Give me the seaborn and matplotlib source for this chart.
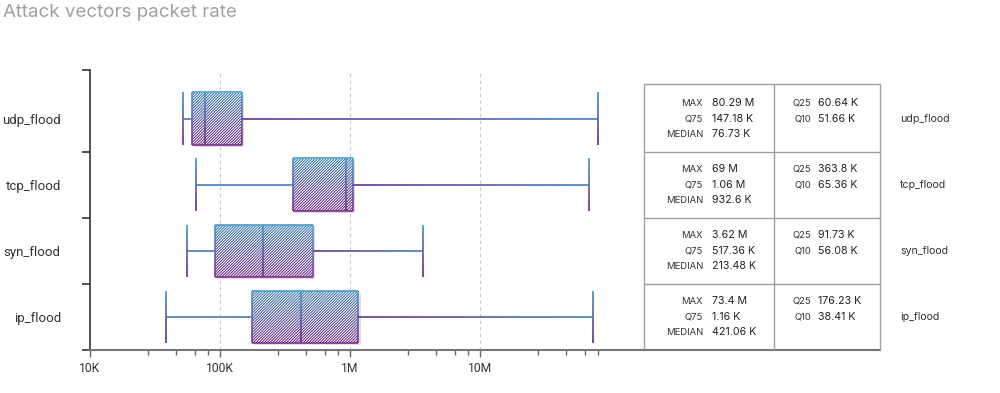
import numpy as np
import pandas as pd
import matplotlib
matplotlib.use("Agg")
import matplotlib.pyplot as plt
import matplotlib.ticker as mticker
import matplotlib.patheffects as pe
from matplotlib.colors import LinearSegmentedColormap
from matplotlib.collections import LineCollection
from matplotlib.patches import Rectangle
import seaborn as sns

# Attack vectors and their packet-rate stats (packets/s)
vectors = ["udp_flood", "tcp_flood", "syn_flood", "ip_flood"]
q10 = [51.66e3, 65.36e3, 56.08e3, 38.41e3]
q25 = [60.64e3, 363.8e3, 91.73e3, 176.23e3]
median = [76.73e3, 932.6e3, 213.48e3, 421.06e3]
q75 = [147.18e3, 1.06e6, 517.36e3, 1.16e6]
max_rate = [80.29e6, 69e6, 3.62e6, 73.4e6]

# table text as printed next to the chart
max_txt = ["80.29 M", "69 M", "3.62 M", "73.4 M"]
q75_txt = ["147.18 K", "1.06 M", "517.36 K", "1.16 K"]
median_txt = ["76.73 K", "932.6 K", "213.48 K", "421.06 K"]
q25_txt = ["60.64 K", "363.8 K", "91.73 K", "176.23 K"]
q10_txt = ["51.66 K", "65.36 K", "56.08 K", "38.41 K"]

tick_vals = [1e4, 1e5, 1e6, 1e7]
tick_labels = ["10K", "100K", "1M", "10M"]

# blue (top) -> purple (bottom); fill is a bit darker than the outlines
line_cmap = LinearSegmentedColormap.from_list("line_bp", ["#4b9bc8", "#7c3090"])
fill_cmap = LinearSegmentedColormap.from_list("fill_bp", ["#2a78aa", "#661c7c"])

# one row per stat, so whis=(0, 100) gives box = q25..q75, whiskers = q10..max
rows = []
for i, v in enumerate(vectors):
    for val in (q10[i], q25[i], median[i], q75[i], max_rate[i]):
        rows.append({"vector": v, "rate": val})
df = pd.DataFrame(rows)

sns.set_style("ticks")
plt.rcParams["font.family"] = ["Roboto", "DejaVu Sans"]
plt.rcParams["hatch.linewidth"] = 0.7

fig = plt.figure(figsize=(10, 3.93), dpi=100)
ax = fig.add_axes([0.09, 1 - 350 / 393, 0.554, 280 / 393])

sns.boxplot(data=df, x="rate", y="vector", order=vectors, log_scale=True,
            whis=(0, 100), width=0.8, showfliers=False, color="#5a6fb0",
            linewidth=1.2, capwidths=0.8, ax=ax)

boxes = list(ax.patches)
lines = list(ax.lines)
half = 0.4


def tcol(t):
    return line_cmap(float(np.clip(t, 0, 1)))


# gradient + hatch boxes
for patch in boxes:
    verts = patch.get_path().vertices
    x0, x1 = verts[:, 0].min(), verts[:, 0].max()
    y0, y1 = verts[:, 1].min(), verts[:, 1].max()
    patch.set_facecolor("none")
    patch.set_edgecolor("none")

    base = Rectangle((x0, y0), x1 - x0, y1 - y0, facecolor="white", lw=0, zorder=1.8,
                     path_effects=[pe.SimplePatchShadow(offset=(1.5, -1.5), shadow_rgbFace="k", alpha=0.12),
                                   pe.Normal()])
    ax.add_patch(base)
    grad = np.linspace(0, 1, 256).reshape(-1, 1)
    im = ax.imshow(grad, cmap=fill_cmap, extent=(x0, x1, y1, y0), aspect="auto",
                   origin="upper", interpolation="bilinear", zorder=2)
    im.set_clip_path(base)
    ax.add_patch(Rectangle((x0, y0), x1 - x0, y1 - y0, facecolor="none",
                           edgecolor="white", lw=0, hatch="/" * 12, zorder=2.5))

    ys = np.linspace(y0, y1, 21)
    segs, cols = [], []
    for x in (x0, x1):
        for a, b in zip(ys[:-1], ys[1:]):
            segs.append([(x, a), (x, b)])
            cols.append(tcol(((a + b) / 2 - y0) / (y1 - y0)))
    segs += [[(x0, y0), (x1, y0)], [(x0, y1), (x1, y1)]]
    cols += [tcol(0), tcol(1)]
    ax.add_collection(LineCollection(segs, colors=cols, linewidths=1.2, zorder=3))

# whiskers, caps and medians redrawn with the gradient
for line in lines:
    xd = np.asarray(line.get_xdata(), dtype=float)
    yd = np.asarray(line.get_ydata(), dtype=float)
    if len(xd) < 2:
        continue
    line.set_visible(False)
    pos = round(float(np.mean(yd)))
    top = pos - half
    segs, cols = [], []
    if np.isclose(xd[0], xd[-1]):
        ys = np.linspace(yd.min(), yd.max(), 21)
        for a, b in zip(ys[:-1], ys[1:]):
            segs.append([(xd[0], a), (xd[0], b)])
            cols.append(tcol(((a + b) / 2 - top) / (2 * half)))
    else:
        lo, hi = xd.min(), xd.max()
        xs = np.geomspace(lo, hi, 40)
        right_side = hi > median[pos]
        for a, b in zip(xs[:-1], xs[1:]):
            f = (np.log10(np.sqrt(a * b)) - np.log10(lo)) / (np.log10(hi) - np.log10(lo))
            t = 0.85 - 0.7 * f if right_side else 0.2
            segs.append([(a, yd[0]), (b, yd[0])])
            cols.append(tcol(t))
    ax.add_collection(LineCollection(segs, colors=cols, linewidths=1.3, zorder=3.2))

# axes styling
ax.set_xlim(1e4, 10 ** 8.26)
ax.set_ylim(3.5, -0.74)
ax.set_xlabel("")
ax.set_ylabel("")
ax.xaxis.set_major_locator(mticker.FixedLocator(tick_vals))
ax.xaxis.set_major_formatter(mticker.FixedFormatter(tick_labels))
ax.xaxis.set_minor_locator(mticker.LogLocator(base=10, subs=(2.8, 4.6, 6.4, 8.1)))
ax.xaxis.set_minor_formatter(mticker.NullFormatter())
ax.tick_params(axis="x", which="major", length=5, width=1, color="#666",
               labelsize=8.7, labelcolor="#333", pad=4)
ax.tick_params(axis="x", which="minor", length=3.5, width=1, color="#666")

ax.set_yticks([-0.74, 0.5, 1.5, 2.5, 3.5])
ax.set_yticklabels([])
ax.set_yticks(range(len(vectors)), minor=True)
ax.set_yticklabels(vectors, minor=True)
ax.tick_params(axis="y", which="major", length=6, width=1.2, color="#333")
ax.tick_params(axis="y", which="minor", length=0, pad=21, labelsize=9.5, labelcolor="#333")

for g in tick_vals[1:]:
    ax.axvline(g, color="#c8c8c8", lw=0.8, ls=(0, (3, 3)), zorder=0)

sns.despine(ax=ax, top=True, right=True)
ax.spines["left"].set_color("#333")
ax.spines["left"].set_linewidth(1.2)
ax.spines["bottom"].set_color("#777")
ax.spines["bottom"].set_linewidth(1.5)

# stats table to the right of the plot (x in axes fraction, y in category units)
trans = ax.get_yaxis_transform()
tab_l, tab_m, tab_r = 1.0, 1.2347, 1.426
tab_top = -0.53
line_kw = dict(transform=trans, clip_on=False, color="#a0a0a0", lw=1)
for yb in [tab_top, 0.5, 1.5, 2.5]:
    ax.plot([tab_l, tab_r], [yb, yb], **line_kw)
ax.plot([tab_l, tab_r], [3.5, 3.5], transform=trans, clip_on=False, color="#777", lw=1.5)
for xb in [tab_l, tab_m, tab_r]:
    ax.plot([xb, xb], [tab_top, 3.5], **line_kw)

lab_kw = dict(transform=trans, ha="right", va="center", fontsize=6.8, color="#333",
              family=["Inter", "DejaVu Sans"], clip_on=False)
val_kw = dict(transform=trans, ha="left", va="center", fontsize=7.7, color="#222",
              family=["Inter", "DejaVu Sans"], clip_on=False)
for i, v in enumerate(vectors):
    ya, yb, yc = i - 0.24, i, i + 0.23
    ax.text(1.1065, ya, "MAX", **lab_kw)
    ax.text(1.1065, yb, "Q75", **lab_kw)
    ax.text(1.1065, yc, "MEDIAN", **lab_kw)
    ax.text(1.1227, ya, max_txt[i], **val_kw)
    ax.text(1.1227, yb, q75_txt[i], **val_kw)
    ax.text(1.1227, yc, median_txt[i], **val_kw)
    ax.text(1.3014, ya, "Q25", **lab_kw)
    ax.text(1.3014, yb, "Q10", **lab_kw)
    ax.text(1.314, ya, q25_txt[i], **val_kw)
    ax.text(1.314, yb, q10_txt[i], **val_kw)
    ax.text(1.462, i, v, transform=trans, ha="left", va="center", fontsize=7.6,
            color="#333", family=["Inter", "DejaVu Sans"], clip_on=False)

fig.text(0.003, 1 - 17 / 393, "Attack vectors packet rate", fontsize=13.5,
         color="#a0a0a0", ha="left", va="baseline", family=["Inter", "DejaVu Sans"])

fig.savefig("out.png", dpi=100)
